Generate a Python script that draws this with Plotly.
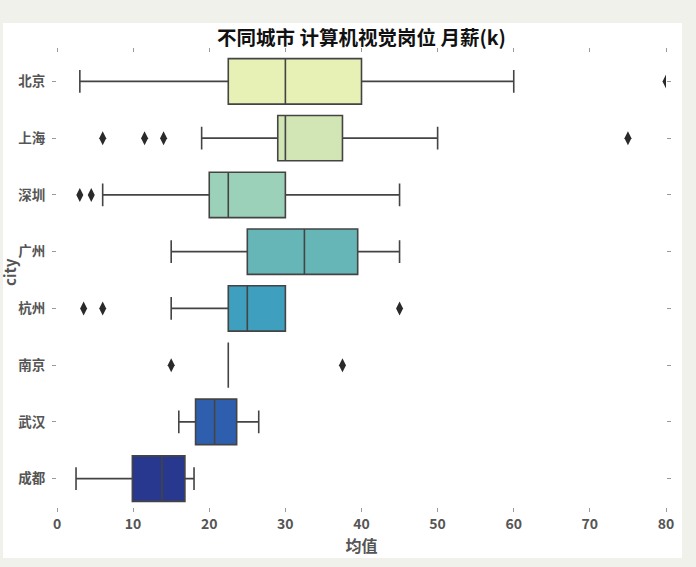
import plotly.graph_objects as go

cities = ["北京", "上海", "深圳", "广州", "杭州", "南京", "武汉", "成都"]
lower_fence = [3, 19, 6, 15, 15, 22.5, 16, 2.5]
q1 = [22.5, 29, 20, 25, 22.5, 22.5, 18.2, 9.9]
median = [30, 30, 22.5, 32.5, 25, 22.5, 20.7, 13.8]
q3 = [40, 37.5, 30, 39.5, 30, 22.5, 23.6, 16.8]
upper_fence = [60, 50, 45, 45, 30, 22.5, 26.5, 18]
colors = ["#e7f0b5", "#d1e6b4", "#9bd1b9", "#66b6b8", "#3f9fbe", "#3080b8", "#2e5fae", "#28388f"]

outlier_city = ["北京", "上海", "上海", "上海", "上海", "深圳", "深圳", "杭州", "杭州", "杭州", "南京", "南京"]
outlier_value = [80, 6, 11.5, 14, 75, 3, 4.5, 3.5, 6, 45, 15, 37.5]

FONT = "Noto Sans CJK SC"
fig = go.Figure()

for i, c in enumerate(cities):
    fig.add_trace(go.Box(
        y=[c], q1=[q1[i]], median=[median[i]], q3=[q3[i]],
        lowerfence=[lower_fence[i]], upperfence=[upper_fence[i]],
        orientation="h", fillcolor=colors[i],
        line=dict(color="#444444", width=1.6),
        whiskerwidth=0.5, width=0.8, boxpoints=False,
        showlegend=False, hoverinfo="x",
    ))

fig.add_trace(go.Scatter(
    x=outlier_value, y=outlier_city, mode="markers",
    marker=dict(symbol="diamond-tall", size=10, color="#2a2a2a"),
    showlegend=False, cliponaxis=True,
))

W0, W1 = 57, 666
H0, H1 = 53, 507
pw, ph = W1 - W0, H1 - H0

def px(x):
    return (x - W0) / pw

def py(y):
    return (H1 - y) / ph

fig.add_shape(type="rect", xref="paper", yref="paper",
              x0=px(3), x1=px(682), y0=py(558), y1=py(23),
              fillcolor="white", line=dict(width=0), layer="below")

fig.update_layout(
    width=696, height=567,
    margin=dict(l=W0, r=696 - W1, t=H0, b=567 - H1),
    paper_bgcolor="#f1f1ec", plot_bgcolor="#e5e5e7",
    font=dict(family=FONT, color="#555555"),
    title=dict(text="<b>不同城市 计算机视觉岗位 月薪(k)</b>",
               x=(W0 + W1) / 2 / 696, xanchor="center", y=1 - 38 / 567, yanchor="middle",
               font=dict(size=19.5, color="#111111", family=FONT)),
    xaxis=dict(range=[0, 80], tickvals=[0, 10, 20, 30, 40, 50, 60, 70, 80],
               ticks="outside", ticklen=4, tickcolor="#999999", mirror="ticks",
               showgrid=True, gridcolor="white", griddash="dash", gridwidth=1,
               zeroline=False, showline=False,
               tickfont=dict(size=14, color="#555555", family=FONT, weight="bold"),
               title=dict(text="<b>均值</b>", font=dict(size=16, color="#555555", family=FONT),
                          standoff=6)),
    yaxis=dict(categoryorder="array", categoryarray=cities, range=[7.5, -0.5],
               ticks="outside", ticklen=4, tickcolor="#999999", mirror="ticks",
               showgrid=True, gridcolor="white", griddash="dash", gridwidth=1,
               zeroline=False, showline=False, ticklabelstandoff=4,
               tickfont=dict(size=13.5, color="#555555", family=FONT, weight="bold")),
    annotations=[dict(text="<b>city</b>", xref="paper", yref="paper",
                      x=px(9), y=py(272), xanchor="center", yanchor="middle",
                      textangle=-90, showarrow=False,
                      font=dict(size=15, color="#555555", family=FONT))],
)

fig.write_html("out.html")
